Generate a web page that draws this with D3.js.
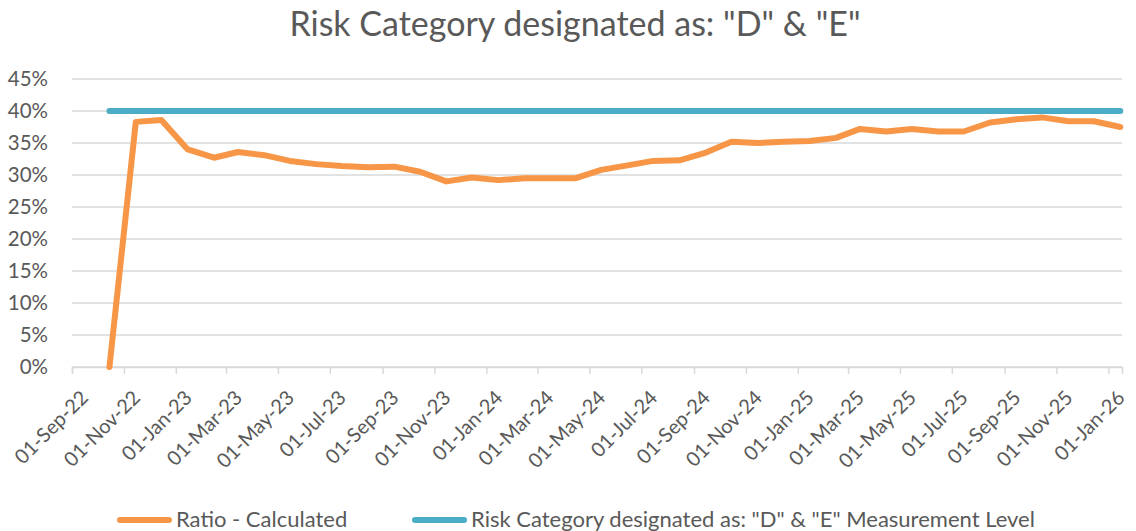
<!DOCTYPE html>
<html>
<head>
<meta charset="utf-8">
<script src="https://cdn.jsdelivr.net/npm/d3@7"></script>
<style>
  body { margin: 0; background: #fff; }
  svg { font-family: Lato, "Open Sans", sans-serif; }
</style>
</head>
<body>
<div id="chart-area"></div>
<script>
// Monthly observations (plotted mid-month on a date axis)
var months = [
  "2022-10-15","2022-11-15","2022-12-15","2023-01-15","2023-02-15","2023-03-15",
  "2023-04-15","2023-05-15","2023-06-15","2023-07-15","2023-08-15","2023-09-15",
  "2023-10-15","2023-11-15","2023-12-15","2024-01-15","2024-02-15","2024-03-15",
  "2024-04-15","2024-05-15","2024-06-15","2024-07-15","2024-08-15","2024-09-15",
  "2024-10-15","2024-11-15","2024-12-15","2025-01-15","2025-02-15","2025-03-15",
  "2025-04-15","2025-05-15","2025-06-15","2025-07-15","2025-08-15","2025-09-15",
  "2025-10-15","2025-11-15","2025-12-15","2026-01-15"
];

// Ratio - Calculated (%)
var ratio = [
  0, 38.3, 38.6, 34.0, 32.7, 33.6, 33.1, 32.2, 31.7, 31.4,
  31.2, 31.3, 30.5, 29.0, 29.6, 29.2, 29.5, 29.5, 29.5, 30.8,
  31.5, 32.2, 32.3, 33.5, 35.2, 35.0, 35.2, 35.3, 35.8, 37.2,
  36.8, 37.2, 36.8, 36.8, 38.2, 38.7, 39.0, 38.4, 38.4, 37.5
];

// Measurement level (%)
var level = [
  40, 40, 40, 40, 40, 40, 40, 40, 40, 40,
  40, 40, 40, 40, 40, 40, 40, 40, 40, 40,
  40, 40, 40, 40, 40, 40, 40, 40, 40, 40,
  40, 40, 40, 40, 40, 40, 40, 40, 40, 40
];

var yTicks = [0, 5, 10, 15, 20, 25, 30, 35, 40, 45];
var xStart = "2022-09-01", xEnd = "2026-01-17";

var seriesNames = ["Ratio - Calculated", "Risk Category designated as: \"D\" & \"E\" Measurement Level"];
var colors = ["#F79646", "#4BACC6"];
var titleText = "Risk Category designated as: \"D\" & \"E\"";

var W = 1136, H = 531;
var margin = { left: 72, right: 14, top: 79, bottom: 164 };
var textColor = "#595959", gridColor = "#d9d9d9";

var parse = d3.timeParse("%Y-%m-%d");
var dates = months.map(parse);

var svg = d3.select("#chart-area")
  .append("svg")
    .attr("width", W)
    .attr("height", H);

var x = d3.scaleTime()
  .domain([parse(xStart), parse(xEnd)])
  .range([margin.left, W - margin.right]);

var y = d3.scaleLinear()
  .domain([0, 45])
  .range([H - margin.bottom, margin.top]);

// Title
svg.append("text")
  .attr("x", 575)
  .attr("y", 36)
  .attr("text-anchor", "middle")
  .attr("font-size", "34px")
  .attr("fill", textColor)
  .text(titleText);

// Gridlines
svg.append("g")
  .selectAll("line")
  .data(yTicks)
  .enter().append("line")
    .attr("x1", margin.left)
    .attr("x2", W - margin.right)
    .attr("y1", function(d) { return y(d); })
    .attr("y2", function(d) { return y(d); })
    .attr("stroke", gridColor)
    .attr("stroke-width", 1.5);

// Y axis labels
var yAxis = d3.axisLeft(y)
  .tickValues(yTicks)
  .tickSize(0)
  .tickPadding(0)
  .tickFormat(function(d) { return d + "%"; });
var gy = svg.append("g")
  .attr("transform", "translate(" + 48 + ",0)")
  .call(yAxis);
gy.select(".domain").remove();
gy.selectAll("text")
  .attr("font-family", "Lato, sans-serif")
  .attr("font-size", "20.5px")
  .attr("fill", textColor);

// X axis
var xAxis = d3.axisBottom(x)
  .ticks(d3.timeMonth.every(2))
  .tickSize(7)
  .tickFormat(d3.timeFormat("%d-%b-%y"));
var gx = svg.append("g")
  .attr("transform", "translate(0," + y(0) + ")")
  .call(xAxis);
gx.select(".domain").attr("stroke", gridColor).attr("stroke-width", 1.5);
gx.selectAll(".tick line").attr("stroke", gridColor).attr("stroke-width", 1.5);
gx.selectAll("text")
  .attr("font-family", "Lato, sans-serif")
  .attr("font-size", "20px")
  .attr("fill", textColor)
  .attr("text-anchor", "end")
  .attr("dy", "0.35em")
  .attr("transform", "translate(12,27) rotate(-45)")
  .attr("y", 0)
  .attr("x", 0);

// Lines
var line = d3.line()
  .x(function(d) { return x(d.date); })
  .y(function(d) { return y(d.value); });

[level, ratio].forEach(function(vals, k) {
  var idx = k === 0 ? 1 : 0;
  var pts = vals.map(function(v, i) { return { date: dates[i], value: v }; });
  svg.append("path")
    .datum(pts)
    .attr("fill", "none")
    .attr("stroke", colors[idx])
    .attr("stroke-width", 6)
    .attr("stroke-linejoin", "round")
    .attr("stroke-linecap", "round")
    .attr("d", line);
});

// Legend
var legendX = [117, 412];
seriesNames.forEach(function(name, i) {
  var row = svg.append("g")
    .attr("transform", "translate(" + legendX[i] + ",520)");
  row.append("line")
    .attr("x1", 3).attr("x2", 52)
    .attr("stroke", colors[i])
    .attr("stroke-width", 6)
    .attr("stroke-linecap", "round");
  row.append("text")
    .attr("x", 59)
    .attr("y", 0)
    .attr("dy", "0.32em")
    .attr("font-size", "22px")
    .attr("fill", textColor)
    .text(name);
});
</script>
</body>
</html>
